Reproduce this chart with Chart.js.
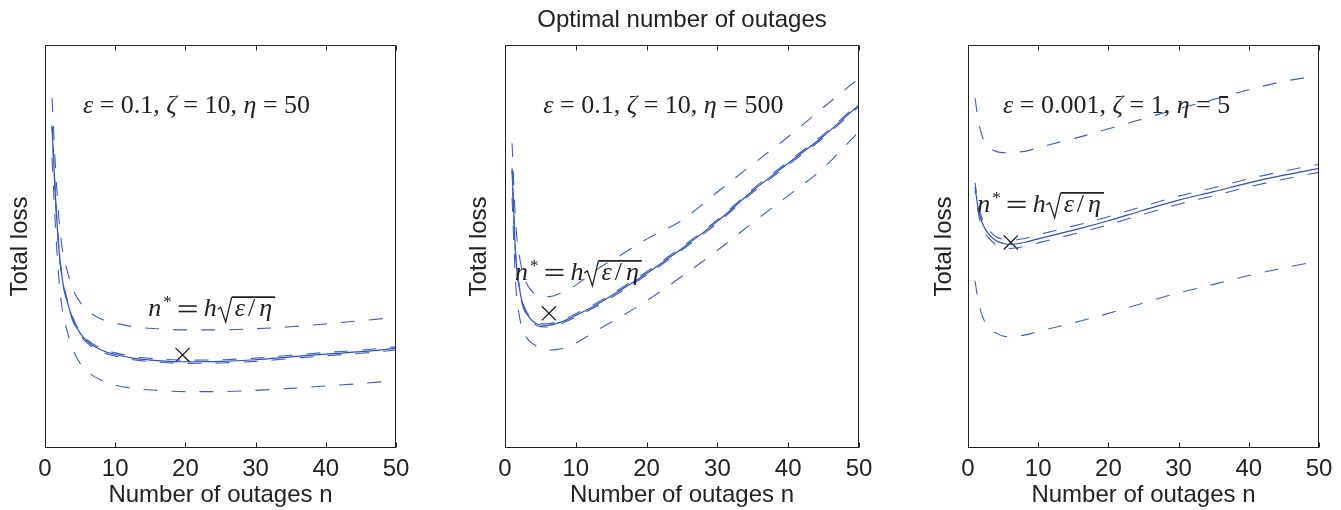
<!DOCTYPE html>
<html>
<head>
<meta charset="utf-8">
<script src="https://cdn.jsdelivr.net/npm/chart.js@4/dist/chart.umd.min.js"></script>
<style>
  body { margin: 0; background: #fff; }
  #wrap { position: relative; width: 1341px; height: 510px; }
  canvas { position: absolute; left: 0; top: 0; }
</style>
</head>
<body>
<div id="wrap">
  <canvas id="c0" width="1341" height="510"></canvas>
  <canvas id="c1" width="1341" height="510"></canvas>
  <canvas id="c2" width="1341" height="510"></canvas>
</div>
<script>
// number of outages sampled along each curve
var nValues = [1, 1.5, 2, 2.5, 3, 4, 5, 6, 8, 10, 13, 16, 20, 25, 30, 35, 40, 45, 50];
var xTicks = [0, 10, 20, 30, 40, 50];

// panel 1: eps=0.1, zeta=10, eta=50
var lossA       = [79.7, 62.0, 49.0, 41.5, 37.5, 31.8, 28.5, 26.5, 24.3, 23.2, 22.2, 21.7, 21.4, 21.5, 21.9, 22.6, 23.3, 23.9, 24.7];
var lossANearHi = [80.1, 62.4, 49.4, 41.9, 37.9, 32.2, 28.9, 26.9, 24.7, 23.6, 22.6, 22.1, 21.8, 21.9, 22.3, 23.0, 23.7, 24.3, 25.1];
var lossANearLo = [79.3, 61.6, 48.6, 41.1, 37.1, 31.4, 28.1, 26.1, 23.9, 22.8, 21.8, 21.3, 21.0, 21.1, 21.5, 22.2, 22.9, 23.5, 24.3];
var lossAHi     = [86.8, 69.5, 56.5, 49.0, 45.0, 39.3, 36.2, 34.2, 32.0, 31.0, 30.0, 29.6, 29.3, 29.3, 29.6, 30.1, 30.8, 31.6, 32.4];
var lossALo     = [72.0, 54.5, 41.5, 34.0, 30.0, 24.3, 21.0, 19.0, 16.8, 15.6, 14.7, 14.3, 14.0, 14.0, 14.3, 14.8, 15.4, 16.0, 16.7];

// panel 2: eps=0.1, zeta=10, eta=500
var lossB       = [69.0, 48.0, 40.0, 35.7, 33.5, 31.3, 30.5, 30.4, 31.3, 32.9, 35.6, 38.8, 43.3, 49.5, 56.2, 63.8, 70.6, 77.4, 85.1];
var lossBNearHi = [69.4, 48.4, 40.4, 36.1, 33.9, 31.7, 30.9, 30.8, 31.7, 33.3, 36.0, 39.2, 43.7, 49.9, 56.6, 64.2, 71.0, 77.8, 85.5];
var lossBNearLo = [68.6, 47.6, 39.6, 35.3, 33.1, 30.9, 30.1, 30.0, 30.9, 32.5, 35.2, 38.4, 42.9, 49.1, 55.8, 63.4, 70.2, 77.0, 84.7];
var lossBHi     = [75.6, 56.0, 48.0, 43.5, 41.0, 38.5, 37.6, 37.5, 38.5, 40.4, 44.3, 47.5, 51.8, 56.5, 63.5, 70.4, 77.2, 84.5, 91.7];
var lossBLo     = [62.0, 41.0, 33.0, 29.5, 27.5, 25.8, 24.8, 24.3, 24.6, 26.0, 29.2, 32.2, 36.5, 42.6, 49.0, 55.9, 62.6, 69.5, 78.5];

// panel 3: eps=0.001, zeta=1, eta=5
var lossC       = [64.8, 59.0, 56.0, 54.2, 53.0, 51.4, 50.8, 50.5, 51.0, 51.9, 53.2, 54.5, 56.4, 59.0, 61.5, 63.6, 65.8, 67.7, 69.4];
var lossCNearHi = [65.8, 60.0, 57.0, 55.2, 54.0, 52.4, 51.8, 51.5, 52.0, 52.9, 54.2, 55.5, 57.4, 60.0, 62.5, 64.6, 66.8, 68.7, 70.4];
var lossCNearLo = [63.8, 58.0, 55.0, 53.2, 52.0, 50.4, 49.8, 49.5, 50.0, 50.9, 52.2, 53.5, 55.4, 58.0, 60.5, 62.6, 64.8, 66.7, 68.4];
var lossCHi     = [86.8, 81.0, 77.5, 75.5, 74.5, 73.6, 73.3, 73.3, 73.6, 74.5, 75.9, 77.2, 79.2, 81.7, 84.2, 86.5, 88.9, 91.0, 92.4];
var lossCLo     = [41.5, 36.0, 33.0, 31.0, 30.0, 28.5, 27.8, 27.6, 28.0, 28.9, 30.2, 31.5, 33.4, 36.0, 38.5, 40.6, 42.8, 44.7, 46.4];

// marked optimum n* in each panel
var optN    = [19.6, 6.2, 6.1];
var optLoss = [23.1, 33.4, 51.0];

var paramText = [
  ['\u03b5', ' = 0.1, ', '\u03b6', ' = 10, ', '\u03b7', ' = 50'],
  ['\u03b5', ' = 0.1, ', '\u03b6', ' = 10, ', '\u03b7', ' = 500'],
  ['\u03b5', ' = 0.001, ', '\u03b6', ' = 1, ', '\u03b7', ' = 5']
];

var BLUE = '#2f4fb3';
var BLUE_D = '#3d5ec0';
var TXT = '#222';

function pts(ys) {
  return nValues.map(function(n, i) { return {x: n, y: ys[i]}; });
}

// axes box with inward ticks on top and bottom
var framePlugin = {
  id: 'frame',
  afterDatasetsDraw: function(chart) {
    var ctx = chart.ctx, a = chart.chartArea, x = chart.scales.x;
    var L = Math.round(a.left) + 0.5, R = Math.round(a.right) - 0.5;
    var T = Math.round(a.top) + 0.5, B = Math.round(a.bottom) - 0.5;
    ctx.save();
    ctx.strokeStyle = TXT;
    ctx.lineWidth = 1;
    ctx.strokeRect(L, T, R - L, B - T);
    ctx.beginPath();
    x.ticks.forEach(function(t) {
      var px = Math.round(x.getPixelForValue(t.value)) + 0.5;
      ctx.moveTo(px, B); ctx.lineTo(px, B - 5);
      ctx.moveTo(px, T); ctx.lineTo(px, T + 5);
    });
    ctx.stroke();
    ctx.restore();
  }
};

function serif(size, it) {
  return (it ? 'italic ' : '') + size + 'px "Liberation Serif", "DejaVu Serif", serif';
}

// LaTeX-like labels
var mathPlugin = {
  id: 'mathText',
  afterDatasetsDraw: function(chart, args, opts) {
    var ctx = chart.ctx, xs = chart.scales.x, ys = chart.scales.y;
    var size = 26;
    ctx.save();
    ctx.fillStyle = TXT;
    ctx.strokeStyle = TXT;
    ctx.textBaseline = 'alphabetic';
    ctx.textAlign = 'left';

    // parameter line
    var x = xs.getPixelForValue(opts.label[0]);
    var y = ys.getPixelForValue(opts.label[1]);
    opts.text.forEach(function(t, i) {
      ctx.font = serif(size, i % 2 === 0);
      ctx.fillText(t, x, y);
      x += ctx.measureText(t).width;
    });

    // n* = h sqrt(eps/eta)
    x = xs.getPixelForValue(opts.formula[0]);
    y = ys.getPixelForValue(opts.formula[1]);
    ctx.font = serif(size, true);
    ctx.fillText('n', x, y);
    x += ctx.measureText('n').width + 2;
    ctx.font = serif(17, false);
    ctx.fillText('*', x, y - 9);
    x += ctx.measureText('*').width + 7;
    // wide "=" like TeX
    ctx.fillRect(x, y - 11, 18, 1.6);
    ctx.fillRect(x, y - 5.5, 18, 1.6);
    x += 18 + 7;
    ctx.font = serif(size, true);
    ctx.fillText('h', x, y);
    x += ctx.measureText('h').width + 1;
    var rx = x;
    var top = y - 19;
    ctx.font = serif(size, true);
    var w1 = ctx.measureText('\u03b5').width;
    var w3 = ctx.measureText('\u03b7').width;
    ctx.font = serif(size, false);
    var w2 = ctx.measureText('/').width;
    var tx = rx + 15;
    var end = tx + w1 + w2 + w3 + 12;
    ctx.lineWidth = 1.3;
    ctx.beginPath();
    ctx.moveTo(rx, y - 7);
    ctx.lineTo(rx + 3, y - 9);
    ctx.lineTo(rx + 8, y + 6);
    ctx.lineTo(rx + 14, top);
    ctx.stroke();
    ctx.lineWidth = 1.8;
    ctx.beginPath();
    ctx.moveTo(rx + 14, top);
    ctx.lineTo(end, top);
    ctx.stroke();
    ctx.font = serif(size, true);
    ctx.fillText('\u03b5', tx + 2, y);
    ctx.font = serif(size, false);
    ctx.fillText('/', tx + 5 + w1, y);
    ctx.font = serif(size, true);
    ctx.fillText('\u03b7', tx + 9 + w1 + w2, y);
    ctx.restore();
  }
};

function makeChart(id, k, mean, nearHi, nearLo, hi, lo, pad, yWidth, withTitle) {
  var dashed = function(ys, off) {
    return {data: pts(ys), borderColor: BLUE_D, borderWidth: 1.1, borderDash: [14, 14],
            borderDashOffset: off, pointRadius: 0, cubicInterpolationMode: 'monotone'};
  };
  return new Chart(document.getElementById(id), {
    type: 'line',
    data: {
      datasets: [
        dashed(hi, 0),
        dashed(lo, 0),
        dashed(nearHi, 4),
        dashed(nearLo, 11),
        {data: pts(mean), borderColor: BLUE, borderWidth: 1.2, pointRadius: 0, cubicInterpolationMode: 'monotone'},
        {data: [{x: optN[k], y: optLoss[k]}], showLine: false, pointStyle: 'crossRot', pointRadius: 10,
         pointBorderColor: '#111', pointBorderWidth: 1.2, pointBackgroundColor: 'rgba(0,0,0,0)'}
      ]
    },
    options: {
      responsive: false,
      animation: false,
      events: [],
      layout: {padding: {left: pad[0], right: pad[1], top: withTitle ? 0 : 45, bottom: 0}},
      plugins: {
        legend: {display: false},
        tooltip: {enabled: false},
        title: {
          display: withTitle,
          text: 'Optimal number of outages',
          fullSize: false,
          color: TXT,
          font: {family: 'Liberation Sans', size: 24, weight: 'normal'},
          padding: {top: 6, bottom: 10}
        },
        mathText: {
          text: paramText[k],
          label: pad[2],
          formula: pad[3]
        }
      },
      scales: {
        x: {
          type: 'linear',
          min: 0, max: 50,
          afterBuildTicks: function(s) { s.ticks = xTicks.map(function(v) { return {value: v}; }); },
          afterFit: function(s) { s.height = 62; },
          grid: {display: false, drawTicks: false},
          border: {display: false},
          ticks: {color: TXT, padding: 7, font: {family: 'Liberation Sans', size: 24}},
          title: {display: true, text: 'Number of outages n', color: TXT, padding: 0,
                  font: {family: 'Liberation Sans', size: 24}}
        },
        y: {
          min: 0, max: 100,
          afterFit: function(s) { s.width = yWidth; },
          grid: {display: false, drawTicks: false},
          border: {display: false},
          ticks: {display: false},
          title: {display: true, text: 'Total loss', color: TXT, padding: 0,
                  font: {family: 'Liberation Sans', size: 24}}
        }
      }
    },
    plugins: [framePlugin, mathPlugin]
  });
}

makeChart('c0', 0, lossA, lossANearHi, lossANearLo, lossAHi, lossALo, [6, 945, [5.4, 83.1], [14.7, 32.7]], 39, false);
makeChart('c1', 1, lossB, lossBNearHi, lossBNearLo, lossBHi, lossBLo, [465, 482, [5.4, 83.1], [1.4, 41.7]], 40, true);
makeChart('c2', 2, lossC, lossCNearHi, lossCNearLo, lossCHi, lossCLo, [930, 22, [5.0, 83.1], [1.3, 58.6]], 38, false);
</script>
</body>
</html>
